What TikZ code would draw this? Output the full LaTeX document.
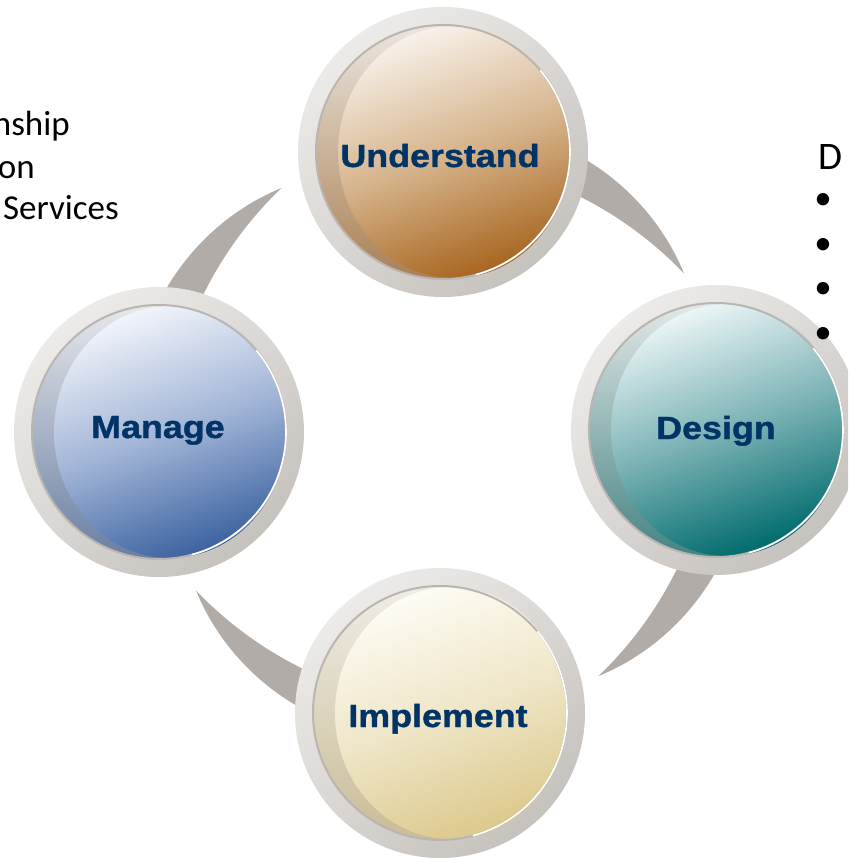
\documentclass[tikz,border=0pt]{standalone}
\usepackage{fontspec}
\setmainfont{Carlito}
\newfontfamily\labfont{Liberation Sans}[FakeStretch=1.12, FakeBold=1.2]
\usetikzlibrary{calc}
\definecolor{navy}{HTML}{003366}
\definecolor{ringA}{HTML}{EDEBE9}
\definecolor{ringB}{HTML}{C6C2BE}
\definecolor{ringM}{HTML}{D6D2CE}
\definecolor{ringD}{HTML}{ABA7A3}
\definecolor{ringedge}{HTML}{BAB5B0}
\definecolor{crescentgray}{HTML}{B2ACA8}
\definecolor{uT}{HTML}{F7F0E8}\definecolor{uM}{HTML}{D6B48C}\definecolor{uB}{HTML}{A86620}
\definecolor{dT}{HTML}{E9F4F5}\definecolor{dM}{HTML}{7BB2B5}\definecolor{dB}{HTML}{006B6D}
\definecolor{mT}{HTML}{F0F3FA}\definecolor{mM}{HTML}{A2B5D7}\definecolor{mB}{HTML}{3C63A1}
\definecolor{iT}{HTML}{FDFBF3}\definecolor{iM}{HTML}{EFE6C8}\definecolor{iB}{HTML}{DDC98D}
\newcommand\ballx[5]{% x, y, top, mid, bottom
  \shade[top color=ringA, bottom color=ringB, shading angle=40] (#1,#2) circle[radius=145pt];
  \shade[top color=#3!65!ringM, bottom color=#5!60!ringD] (#1,#2) circle[radius=127pt];
  \shade[top color=#3, bottom color=#5, middle color=#4, shading angle=20] (#1+11,#2) ellipse[x radius=116pt, y radius=126pt];
  \draw[ringedge, line width=2pt] (#1,#2) circle[radius=127pt];
  \draw[white, line width=1.6pt] ($(#1,#2)+(-75:127pt)$) arc[start angle=-75, end angle=40, radius=127pt];
}
\tikzset{
  lab/.style={font=\labfont\bfseries\fontsize{32}{38}\selectfont, text=navy, anchor=base, inner sep=0pt},
  side/.style={font=\fontsize{35}{42}\selectfont, text=black, inner sep=0pt},
  bul/.style={font=\fontsize{35}{42}\selectfont, text=black, inner sep=0pt, anchor=center}
}
\begin{document}
\begin{tikzpicture}[x=1pt,y=-1pt]
\useasboundingbox (0,0) rectangle (848,858);
\clip (0,0) rectangle (848,858);
\fill[white] (0,0) rectangle (848,858);
\coordinate (O) at (440,432);
% crescent connectors (clockwise)
\foreach \src in {180,90,0,-90}{
  \pgfmathsetmacro\sa{\src-15}
  \pgfmathsetmacro\ta{\src-57}
  \fill[crescentgray]
    plot[domain=\sa:\ta, samples=50, variable=\t]
      ({440+(291+(\t-(\ta))*(0.9636-0.0119*(\t-(\ta))))*cos(\t)},
       {432-(291+(\t-(\ta))*(0.9636-0.0119*(\t-(\ta))))*sin(\t)})
    -- plot[domain=\ta:\sa, samples=50, variable=\t]
      ({440+(291-(\t-(\ta))*(0.9636-0.0119*(\t-(\ta))))*cos(\t)},
       {432-(291-(\t-(\ta))*(0.9636-0.0119*(\t-(\ta))))*sin(\t)})
    -- cycle;
}
% balls
\ballx{443}{152}{uT}{uM}{uB}
\ballx{716}{430}{dT}{dM}{dB}
\ballx{159}{432}{mT}{mM}{mB}
\ballx{440}{713}{iT}{iM}{iB}
% labels
\node[lab] (U) at (440,167) {Understand};
\node[lab] (D) at (716,439) {Design};
\node[lab] (M) at (158,438) {Manage};
\node[lab] (I) at (438,727) {Implement};
% side texts
\node[side, anchor=base east] (l1) at (70,136) {nship};
\node[side, anchor=base east] (l2) at (35,179) {on};
\node[side, anchor=base east] (l3) at (119,220) {Services};
\node[side, font=\fontsize{39}{46}\selectfont, anchor=base west] (r0) at (818,170) {D};
\node[bul] (b1) at (823,201) {•};
\node[bul] (b2) at (823,246) {•};
\node[bul] (b3) at (823,290) {•};
\node[bul] (b4) at (823,335) {•};
\end{tikzpicture}
\end{document}
